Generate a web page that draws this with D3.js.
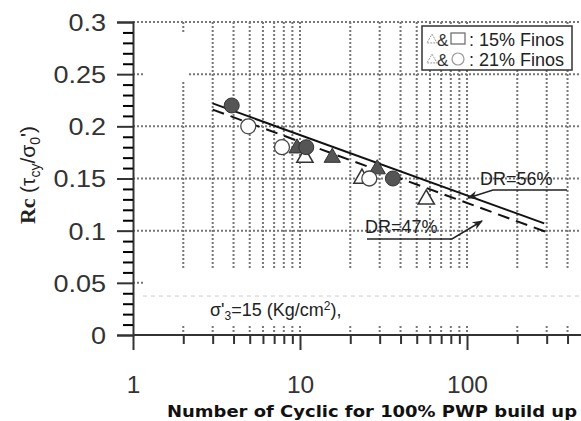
<!DOCTYPE html>
<html><head><meta charset="utf-8">
<script src="https://cdn.jsdelivr.net/npm/d3@7"></script>
<style>body{margin:0;background:#fff}svg{display:block}</style>
</head><body>
<script>
const yMajorTicks = [0, 0.05, 0.1, 0.15, 0.2, 0.25, 0.3];
const xMajorTicks = [1, 10, 100];
const xMinorTicks = [2,3,4,5,6,7,8,9,20,30,40,50,60,70,80,90,200,300,400];

const filledCircles = [[3.9,0.22],[10.9,0.18],[36,0.15]];
const openCircles = [[4.9,0.20],[7.8,0.18],[26,0.15]];
const filledTriangles = [[9.6,0.179],[15.6,0.17],[29,0.159]];
const openTriangles = [[10.7,0.17],[23.5,0.15],[57,0.13]];
const lineDR56 = [[3,0.222],[290,0.107]];
const lineDR47 = [[3,0.216],[295,0.099]];

const W=581,H=421;
const svg=d3.select("body").append("svg").attr("width",W).attr("height",H);
const x=d3.scaleLog().domain([1,100]).range([133,467]);
const y=d3.scaleLinear().domain([0,0.3]).range([335,22]);
const right=581;

// grid
const grid=svg.append("g").attr("stroke","#777").attr("stroke-width",1.2).attr("stroke-dasharray","2,2");
grid.selectAll("line.v").data(xMinorTicks.concat([10,100])).join("line")
  .attr("x1",d=>x(d)).attr("x2",d=>x(d)).attr("y1",y(0.3)).attr("y2",y(0));
grid.selectAll("line.h").data(yMajorTicks.filter(d=>d>0)).join("line")
  .attr("x1",133).attr("x2",right).attr("y1",d=>y(d)).attr("y2",d=>y(d));

// white patches (erased areas)
svg.append("rect").attr("x",143).attr("y",34).attr("width",46).attr("height",46).attr("fill","#fff");
svg.append("rect").attr("x",143).attr("y",269).attr("width",right-143).attr("height",57).attr("fill","#fff");
svg.append("line").attr("x1",143).attr("x2",right).attr("y1",296).attr("y2",296)
  .attr("stroke","#ccc").attr("stroke-dasharray","4,4");
svg.append("text").attr("x",210).attr("y",316).attr("font-family","Liberation Sans, Arial").attr("font-size",18).attr("fill","#222")
  .html("σ'<tspan font-size='12' dy='4'>3</tspan><tspan dy='-4'>=15 (Kg/cm</tspan><tspan font-size='12' dy='-6'>2</tspan><tspan dy='6'>),</tspan>");

// axes
const yAxis=svg.append("g").attr("transform","translate(133,0)")
  .call(d3.axisLeft(y).tickValues(yMajorTicks).tickSize(16).tickPadding(10).tickFormat(d=>d3.format("")(d)));
const yMinor=d3.range(0,0.3001,0.01).filter(v=>Math.abs(v*20-Math.round(v*20))>1e-6);
svg.append("g").attr("transform","translate(133,0)")
  .call(d3.axisLeft(y).tickValues(yMinor).tickSize(10).tickFormat(""))
  .call(g=>g.select(".domain").remove());
yAxis.selectAll("text").attr("font-family","Liberation Sans, Arial").attr("font-size",23.5).attr("fill","#333").attr("dy","0.36em")
  .attr("x",0).attr("transform","translate(-27,0) scale(1.15,1)");
yAxis.selectAll("line,path").attr("stroke","#333").attr("stroke-width",2);
svg.selectAll("g line").attr("stroke-width",2);

const xAxis=svg.append("g").attr("transform","translate(0,335)")
  .call(d3.axisBottom(x).tickValues(xMajorTicks).tickSize(15).tickPadding(26).tickFormat(d3.format("")));
xAxis.select(".domain").attr("d",`M133,0H${right}`);
xAxis.selectAll("text").attr("font-family","Liberation Sans, Arial").attr("font-size",24.5).attr("fill","#333");
xAxis.selectAll("line,path").attr("stroke","#333").attr("stroke-width",2);
const xMinorAxis=svg.append("g").attr("transform","translate(0,335)")
  .call(d3.axisBottom(x).tickValues(xMinorTicks).tickSize(9).tickFormat(""));
xMinorAxis.select(".domain").remove();
xMinorAxis.selectAll("line").attr("stroke","#333").attr("stroke-width",2);

// lines
const lg=d3.line().x(d=>x(d[0])).y(d=>y(d[1]));
svg.append("path").attr("d",lg(lineDR47)).attr("fill","none").attr("stroke","#111").attr("stroke-width",2).attr("stroke-dasharray","12,7");
svg.append("path").attr("d",lg(lineDR56)).attr("fill","none").attr("stroke","#111").attr("stroke-width",2);

// markers
const tri=d3.symbol().type(d3.symbolTriangle).size(115);
svg.append("g").selectAll("path").data(openTriangles).join("path")
  .attr("d",tri).attr("transform",d=>`translate(${x(d[0])},${y(d[1])})`).attr("fill","#fff").attr("stroke","#333").attr("stroke-width",1.5);
svg.append("g").selectAll("path").data(filledTriangles).join("path")
  .attr("d",tri).attr("transform",d=>`translate(${x(d[0])},${y(d[1])})`).attr("fill","#555").attr("stroke","#333").attr("stroke-width",1);
svg.append("g").selectAll("circle").data(openCircles).join("circle")
  .attr("cx",d=>x(d[0])).attr("cy",d=>y(d[1])).attr("r",7.5).attr("fill","#fff").attr("stroke","#444").attr("stroke-width",1.3);
svg.append("g").selectAll("circle").data(filledCircles).join("circle")
  .attr("cx",d=>x(d[0])).attr("cy",d=>y(d[1])).attr("r",7.5).attr("fill","#555").attr("stroke","#333").attr("stroke-width",1);

// annotations
const defs=svg.append("defs");
defs.append("marker").attr("id","arr").attr("viewBox","0 0 10 10").attr("refX",9).attr("refY",5)
  .attr("markerWidth",7).attr("markerHeight",7).attr("orient","auto")
  .append("path").attr("d","M0,1L10,5L0,9L3,5Z").attr("fill","#222");
svg.append("text").attr("x",480).attr("y",185).attr("font-family","Liberation Sans, Arial").attr("font-size",18).attr("fill","#222").text("DR=56%");
svg.append("path").attr("d","M567,190H493L468,198").attr("fill","none").attr("stroke","#222").attr("stroke-width",1.5).attr("marker-end","url(#arr)");
svg.append("text").attr("x",365).attr("y",233).attr("font-family","Liberation Sans, Arial").attr("font-size",18).attr("fill","#222").text("DR=47%");
svg.append("path").attr("d","M367,239H452L482,221").attr("fill","none").attr("stroke","#222").attr("stroke-width",1.5).attr("marker-end","url(#arr)");

// legend
const lgd=svg.append("g");
lgd.append("rect").attr("x",422).attr("y",26).attr("width",150).attr("height",44).attr("fill","#fff").attr("stroke","#333").attr("stroke-width",1.5);
const leg=[{t:": 15% Finos",y:46},{t:": 21% Finos",y:66}];
leg.forEach((l,i)=>{
  lgd.append("path").attr("d",d3.symbol().type(d3.symbolTriangle).size(45)()).attr("transform",`translate(432,${l.y-6})`)
    .attr("fill","none").attr("stroke","#999").attr("stroke-dasharray","2,1");
  lgd.append("text").attr("x",437).attr("y",l.y).attr("font-family","Liberation Sans, Arial").attr("font-size",17).attr("fill","#333").text("&");
  if(i===0) lgd.append("rect").attr("x",451).attr("y",l.y-13).attr("width",14).attr("height",11).attr("fill","none").attr("stroke","#666").attr("stroke-width",1.2);
  else lgd.append("circle").attr("cx",458).attr("cy",l.y-7).attr("r",6).attr("fill","none").attr("stroke","#999").attr("stroke-width",1.2);
  lgd.append("text").attr("x",469).attr("y",l.y).attr("font-family","Liberation Sans, Arial").attr("font-size",18).attr("fill","#222").text(l.t);
});

// axis titles
svg.append("text").attr("x",167).attr("y",417).attr("font-family","DejaVu Sans").attr("font-weight","bold").attr("font-size",16.5).attr("fill","#111")
  .attr("textLength",410).attr("lengthAdjust","spacingAndGlyphs")
  .text("Number of Cyclic for 100% PWP build up");
svg.append("text").attr("transform","translate(35,175) rotate(-90)").attr("text-anchor","middle").attr("fill","#222")
  .html("<tspan font-family='Liberation Serif, Times New Roman' font-weight='bold' font-size='22'>Rc </tspan><tspan font-family='Liberation Sans, Arial' font-size='21'>(τ</tspan><tspan font-family='Liberation Sans, Arial' font-size='14' dy='5'>cy</tspan><tspan font-family='Liberation Sans, Arial' font-size='21' dy='-5'>/σ</tspan><tspan font-family='Liberation Sans, Arial' font-size='14' dy='5'>0</tspan><tspan font-family='Liberation Sans, Arial' font-size='21' dy='-5'>')</tspan>");
</script>
</body></html>
